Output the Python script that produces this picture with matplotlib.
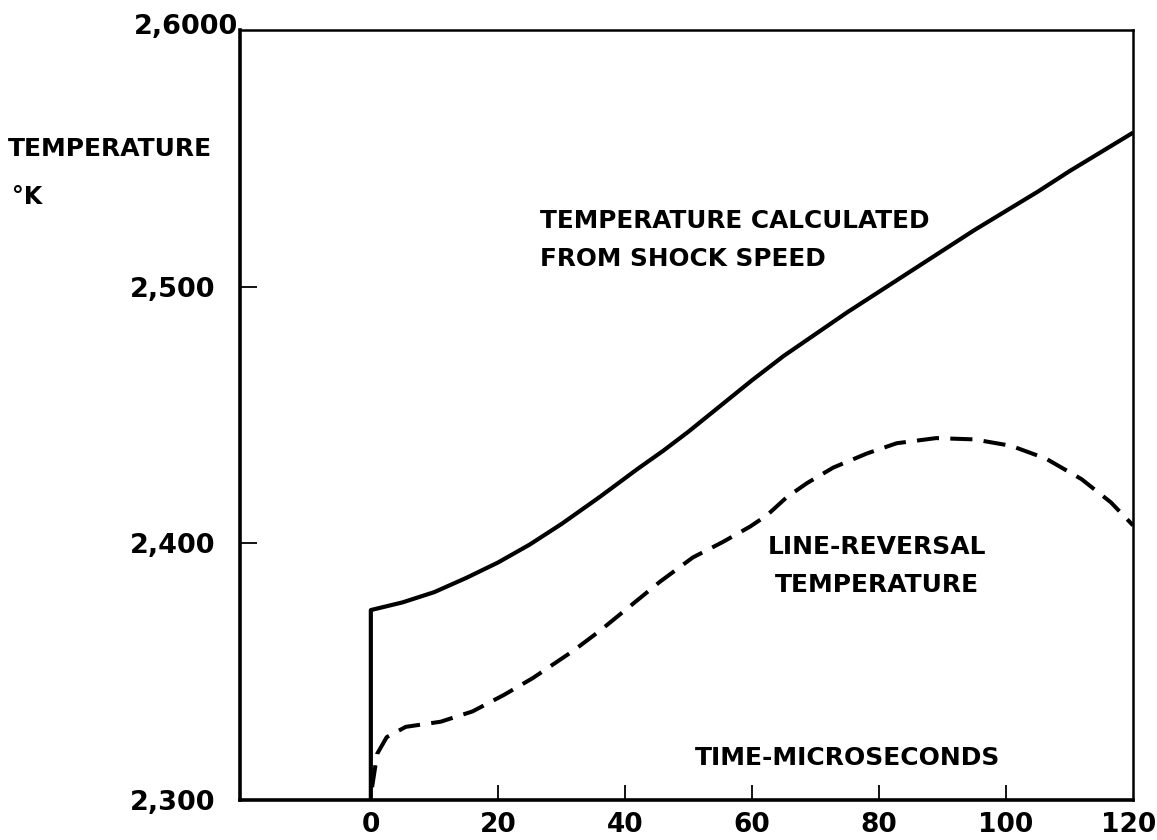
import matplotlib
matplotlib.use("Agg")
import matplotlib.pyplot as plt
import matplotlib.transforms as mtransforms

# ---- data ----
time_solid = [0, 0, 5, 10, 15, 20, 25, 30, 36, 42, 46, 50, 56, 60, 65, 70,
              75, 80, 85, 90, 95, 100, 105, 110, 115, 120]
temp_solid = [2300, 2374, 2377, 2381, 2386.5, 2392.5, 2399.5, 2407.5, 2418,
              2429, 2436, 2443.5, 2455.5, 2463.5, 2473, 2481.5, 2490, 2498,
              2506, 2514, 2522, 2529.5, 2537, 2545, 2552.5, 2560]

time_dash = [0.2, 1, 2.5, 5.5, 11, 16, 21, 25.5, 31.8, 36.1, 41.3, 45.5, 50.7,
             55.4, 59.7, 62.4, 65.5, 68.7, 72.8, 78.1, 82.8, 89, 95, 100.8,
             106.3, 111.9, 116.5, 120]
temp_dash = [2305, 2318, 2324.5, 2328.5, 2330.5, 2334.5, 2341, 2347.5, 2358,
             2366, 2376.5, 2385, 2394.5, 2400.5, 2406.5, 2411, 2418, 2423.5,
             2429.5, 2435, 2439, 2441, 2440.5, 2438, 2433, 2425, 2416, 2407]

x_ticks = [0, 20, 40, 60, 80, 100, 120]
x_tick_labels = ["0", "20", "40", "60", "80", "100", "120"]
y_ticks = [2300, 2400, 2500, 2600]
y_tick_labels = ["2,300", "2,400", "2,500", "2,6000"]

label_solid = "TEMPERATURE CALCULATED\nFROM SHOCK SPEED"
label_dash = "LINE-REVERSAL\nTEMPERATURE"
x_label = "TIME-MICROSECONDS"
y_label = "TEMPERATURE"
y_unit = "°K"

# ---- figure ----
plt.rcParams['font.family'] = ['DejaVu Sans']
W, H = 1157, 840
fig = plt.figure(figsize=(W / 100, H / 100), dpi=100)
ax = fig.add_axes([240 / W, 40 / H, 893 / W, 770 / H])
ax.set_xlim(-20.6, 120)
ax.set_ylim(2300, 2600)

ax.plot(time_solid, temp_solid, color="black", lw=3.0, solid_capstyle="butt",
        solid_joinstyle="round")
ax.plot(time_dash, temp_dash, color="black", lw=2.9, dashes=(5.5, 2.8),
        dash_capstyle="butt")

for side in ["left", "bottom"]:
    ax.spines[side].set_linewidth(2.6)
for side in ["top", "right"]:
    ax.spines[side].set_linewidth(1.8)

ax.set_xticks(x_ticks)
ax.set_xticklabels(x_tick_labels, fontsize=19, fontweight="bold")
ax.set_yticks(y_ticks)
ax.set_yticklabels(y_tick_labels, fontsize=19.5, fontweight="bold")
ax.tick_params(axis="x", direction="in", length=11, width=1.3, pad=9)
ax.tick_params(axis="y", direction="in", length=12, width=1.3, pad=18)

# hide tick marks at the box edges / start line
xt = ax.xaxis.get_major_ticks()
xt[0].tick1line.set_visible(False)
xt[-1].tick1line.set_visible(False)
yt = ax.yaxis.get_major_ticks()
yt[0].tick1line.set_visible(False)
yt[-1].tick1line.set_visible(False)

# shift labels as drawn in the reference
lab = ax.get_yticklabels()[-1]
lab.set_transform(lab.get_transform() + mtransforms.ScaledTranslation(
    23 / 100, 6 / 100, fig.dpi_scale_trans))
labx = ax.get_xticklabels()[-1]
labx.set_transform(labx.get_transform() + mtransforms.ScaledTranslation(
    -4 / 100, 0, fig.dpi_scale_trans))
labx.set_horizontalalignment("center")

# axis labels as free text
fig.text(8 / W, 1 - 149 / H, y_label, fontsize=18, fontweight="bold",
         ha="left", va="center")
fig.text(12 / W, 1 - 197 / H, y_unit, fontsize=17, fontweight="bold",
         ha="left", va="center")
fig.text(848 / W, 1 - 758 / H, x_label, fontsize=18, fontweight="bold",
         ha="center", va="center")

fig.text(540 / W, 1 - 240 / H, label_solid, fontsize=17.8, fontweight="bold",
         ha="left", va="center", linespacing=1.75)
fig.text(877 / W, 1 - 566 / H, label_dash, fontsize=18, fontweight="bold",
         ha="center", va="center", linespacing=1.75)

fig.savefig("out.png", dpi=100)
